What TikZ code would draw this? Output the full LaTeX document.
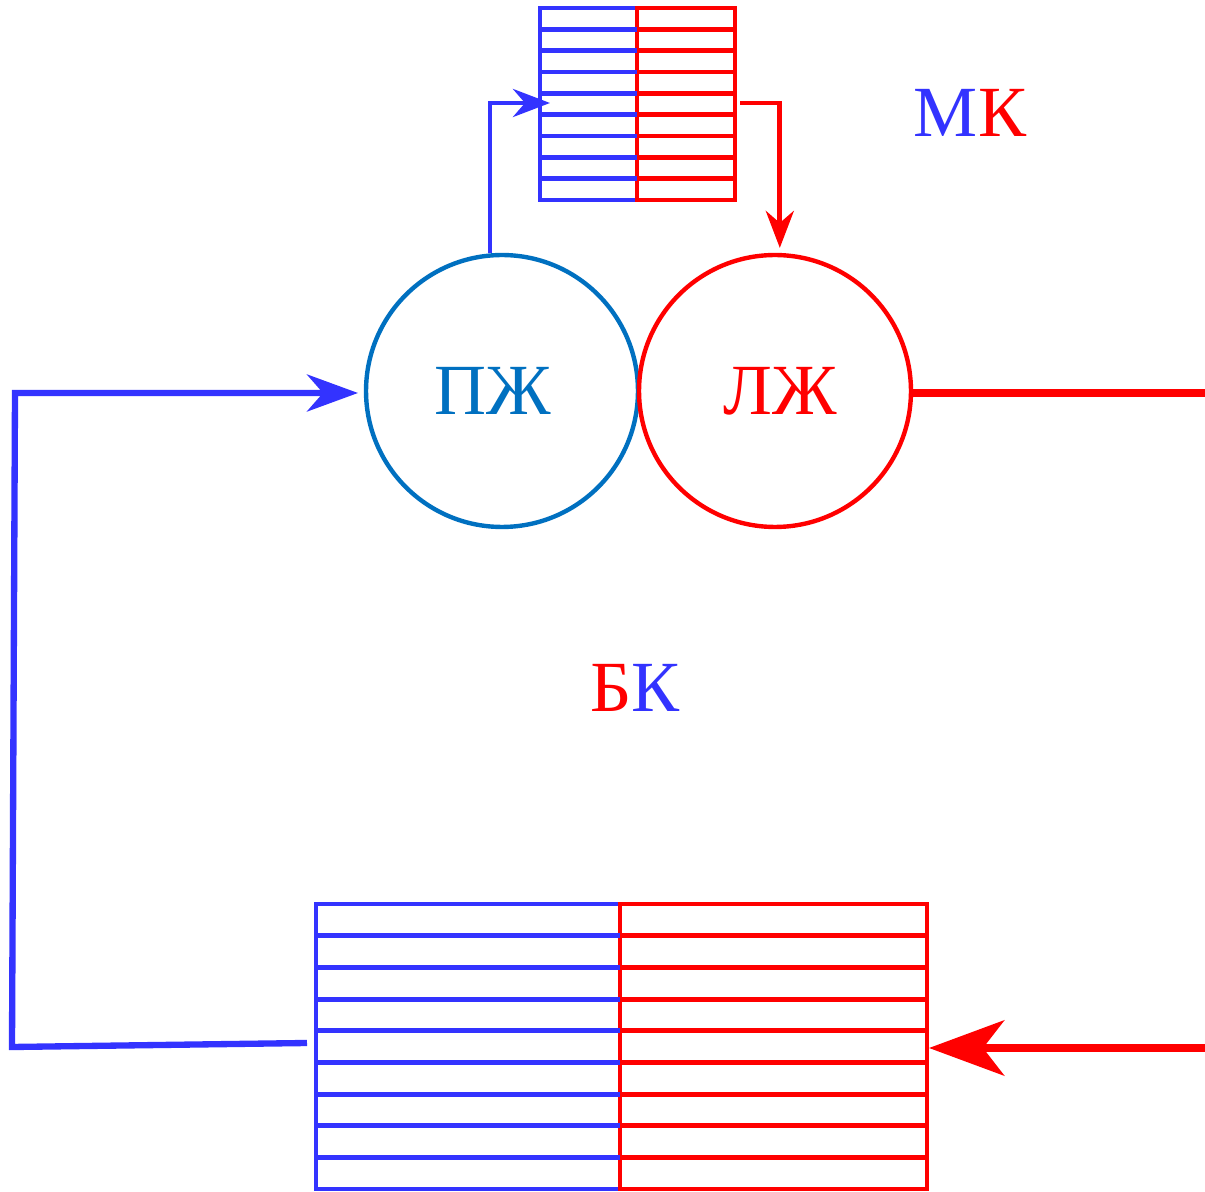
\documentclass[tikz,border=0pt]{standalone}
\usepackage{fontspec}
\setmainfont{Liberation Serif}
\usetikzlibrary{arrows.meta}

\definecolor{vblue}{HTML}{3333FF}
\definecolor{vred}{HTML}{FF0000}
\definecolor{pblue}{HTML}{0070C0}

\begin{document}
\begin{tikzpicture}[%
        x = 0.02cm, y = -0.02cm,
        line width = 2.8pt,
        bigfont/.style = {font = \fontsize{41}{48}\selectfont},
        chamber/.style = {circle, draw, line width = 2.5pt,
            minimum size = 5.44cm, inner sep = 0pt, bigfont},
        thinflow/.style = {line width = 2.8pt,
            -{Stealth[length = 0.74cm, width = 0.56cm, inset = 0.24cm]}},
        mainflow/.style = {line width = 3.6pt,
            -{Stealth[length = 1.02cm, width = 0.74cm, inset = 0.32cm]}}
    ]
        \useasboundingbox (0, 0) rectangle (1205, 1192);

        % The two heart chambers.
        \node[chamber, draw = pblue, text = pblue] (pzh) at (502, 391) {\hspace*{-0.35cm}ПЖ};
        \node[chamber, draw = vred, text = vred]   (lzh) at (775, 391) {\hspace*{0.2cm}ЛЖ};

        % Small circuit: capillary bed of the lungs.
        \draw[vblue] (540, 8) rectangle (637, 200);
        \draw[vred]  (637, 8) rectangle (735, 200);
        \foreach \i in {1,...,8} {
            \draw[vblue] (540, {8 + 21.33*\i}) -- (637, {8 + 21.33*\i});
            \draw[vred]  (637, {8 + 21.33*\i}) -- (735, {8 + 21.33*\i});
        }
        \coordinate (mkin)  at (550, 103);
        \coordinate (mkout) at (740, 103);

        % Big circuit: capillary bed of the body.
        \draw[vblue] (316, 904) rectangle (620, 1189);
        \draw[vred]  (620, 904) rectangle (927, 1189);
        \foreach \i in {1,...,8} {
            \draw[vblue] (316, {904 + 31.7*\i}) -- (620, {904 + 31.7*\i});
            \draw[vred]  (620, {904 + 31.7*\i}) -- (927, {904 + 31.7*\i});
        }
        \coordinate (bkout) at (307, 1043);
        \coordinate (bkin)  at (929, 1048);

        % Flow through the small circuit.
        \draw[thinflow, vblue] (pzh.95) |- (mkin);
        \draw[thinflow, vred]  (mkout) -| ([yshift = 0.1cm]lzh.88);

        % Flow through the big circuit.
        \coordinate (aorta) at (1205, 393);
        \coordinate (cava)  at (1205, 1048);
        \coordinate (pzhin) at (358, 393);
        \draw[vred, line width = 5.1pt] (lzh.east |- aorta) -- (aorta);
        \draw[vred, line width = 5.1pt,
            -{Stealth[length = 1.5cm, width = 1.1cm, inset = 0.42cm]}]
            (cava) -- (bkin);
        \draw[mainflow, vblue] (bkout) -- (12, 1047) -- (15, 393) -- (pzhin);

        % Circuit names.
        \node[bigfont] (mk) at (970, 113) {\textcolor{vblue}{М}\textcolor{vred}{К}};
        \node[bigfont] (bk) at (635, 688) {\textcolor{vred}{Б}\textcolor{vblue}{К}};
    \end{tikzpicture}
\end{document}
